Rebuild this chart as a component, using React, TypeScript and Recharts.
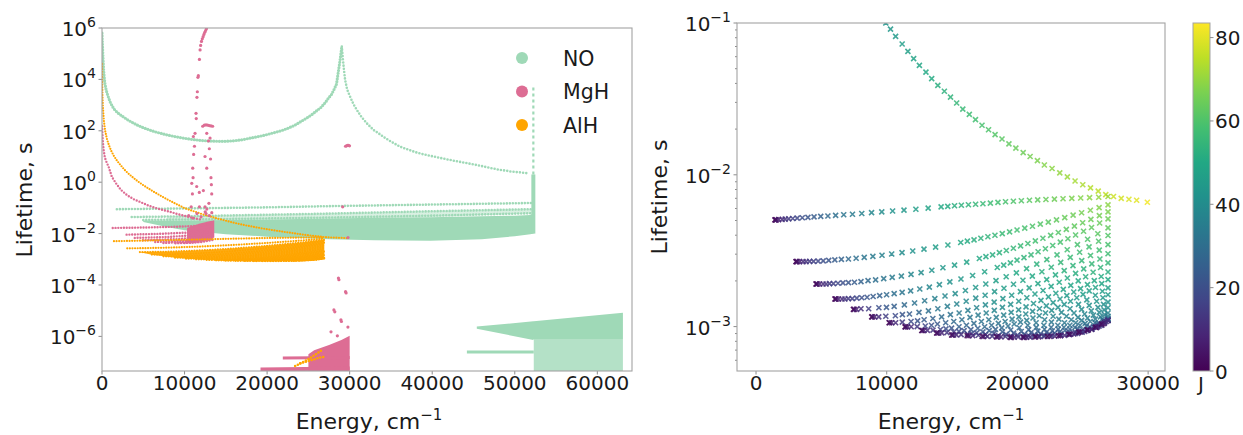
import React from "react";
import { Area, ComposedChart, Line, Scatter, XAxis, YAxis } from "recharts";

type P = [number, number];
type R = [number, number, number]; // x, low, high
type Level = { e: number[]; tauMs: number[]; j: number[] };

const FONT = "'DejaVu Sans', Verdana, sans-serif";
const TXT = "#1a1a1a";
const TICK = "#8c8c8c";
const FRAME = "#a3a3a3";
const NO_C = "#9fd9b7";
const MGH_C = "#dd6d94";
const ALH_C = "#ffa500";
const J_MAX = 83.5;

// ---- left panel: NO ----
const noUCurve: P[] = [
  [0, 6.3e5], [30, 3.5e5], [60, 2e5], [100, 1e5], [140, 5e4], [190, 2.5e4], [260, 1.3e4], [350, 7e3],
  [460, 4.5e3], [600, 3e3], [780, 2e3], [1000, 1.3e3], [1250, 900], [1550, 650], [1900, 500], [2300, 400],
  [2750, 320], [3250, 250], [3800, 200], [4400, 160], [5050, 130], [5750, 108], [6500, 90], [7300, 77],
  [8150, 66], [9050, 58], [10000, 51], [11000, 46], [12000, 42], [13000, 40], [14000, 39], [15000, 39],
  [16000, 41], [17000, 45], [18000, 52], [19000, 60], [19900, 70], [20800, 84], [21700, 100], [22500, 125],
  [23300, 160], [24000, 220], [24700, 300], [25400, 420], [26000, 600], [26500, 800], [27000, 1.2e3],
  [27400, 1.8e3], [27800, 2.6e3], [28100, 4e3], [28400, 6.5e3], [28650, 2.2e4], [28850, 6e4], [29050, 1.9e5],
];
const noRightBranch: P[] = [
  [29050, 1.9e5], [29150, 7.9e4], [29300, 2.5e4], [29450, 9.5e3], [29700, 4e3], [30060, 2.1e3], [30450, 1.1e3],
  [30870, 650], [31400, 355], [32080, 195], [32900, 107], [33500, 80], [34060, 59], [35000, 38], [36120, 24],
  [37500, 16.6], [38200, 14], [39000, 12], [40160, 10], [41500, 8.1], [42200, 7.3], [43000, 6.5], [44200, 5.5],
  [45500, 4.6], [46200, 4.1], [47000, 3.6], [48240, 3.0], [49000, 2.8], [49500, 2.6], [50700, 2.4], [51200, 2.3],
  [51650, 2.2],
];
const noRow1: P[] = [[1800, 0.089], [10000, 0.095], [20000, 0.105], [27600, 0.117], [40000, 0.135], [52000, 0.155]];
const noRow2: P[] = [[3600, 0.044], [10000, 0.047], [20000, 0.054], [27600, 0.06], [40000, 0.074], [52000, 0.089]];
const noRow3: P[] = [[5000, 0.034], [15000, 0.037], [27600, 0.042], [40000, 0.05], [52000, 0.062]];
const noSpike: P[] = [[52250, 0.01], [52250, 2]];
const noSpikeTail: P[] = [[52250, 2], [52250, 6300]];
const noLowLine: P[] = [[44200, 2.45e-7], [52300, 2.45e-7]];
const noMass: R[] = [
  [5000, 2.8e-2, 3.2e-2], [6000, 2.4e-2, 3.2e-2], [8000, 1.78e-2, 3.2e-2], [10000, 1.35e-2, 3.2e-2],
  [15000, 9.5e-3, 3.4e-2], [20000, 7.6e-3, 3.55e-2], [27600, 6.0e-3, 3.9e-2], [33000, 5.5e-3, 4.1e-2],
  [39760, 5.25e-3, 4.3e-2], [46000, 6.0e-3, 4.7e-2], [50000, 7.9e-3, 5.0e-2], [51880, 9.5e-3, 5.25e-2],
  [52300, 1.0e-2, 6.3e-2],
];
const noLight: R[] = [
  [8000, 3.2e-2, 4.6e-2], [20000, 3.55e-2, 5.4e-2], [30000, 3.95e-2, 6.2e-2], [40000, 4.3e-2, 7.4e-2], [52300, 6.3e-2, 8.9e-2],
];
const noLowTop: R[] = [[45400, 2.0e-6, 2.4e-6], [52250, 7.2e-7, 3.9e-6], [52300, 7.9e-7, 3.9e-6], [63100, 7.9e-7, 8.3e-6]];
const noLowBase: R[] = [[52300, 4.5e-8, 7.9e-7], [63100, 4.5e-8, 7.9e-7]];

// ---- left panel: MgH ----
const mghSteep: P[] = [
  [20, 150], [40, 90], [100, 40], [200, 18], [350, 9], [550, 6], [800, 4], [1200, 1.6], [1700, 0.9], [2300, 0.5],
  [3000, 0.32], [3800, 0.22], [4700, 0.166], [5700, 0.12], [6800, 0.093], [8000, 0.074], [9300, 0.056],
  [10600, 0.044], [12000, 0.035],
];
const mghRows: P[][] = [
  [[1300, 1.66e-2], [5000, 1.72e-2], [9000, 1.85e-2], [11500, 2.0e-2], [13400, 2.4e-2]],
  [[2980, 9.1e-3], [7000, 9.8e-3], [10500, 1.1e-2], [13400, 1.6e-2]],
  [[3970, 6.8e-3], [8000, 7.4e-3], [11000, 8.6e-3], [13400, 1.25e-2]],
  [[4960, 5.5e-3], [9000, 6.1e-3], [11500, 7.2e-3], [13400, 1.0e-2]],
  [[6450, 4.7e-3], [10000, 5.2e-3], [12000, 6.3e-3], [13400, 8.5e-3]],
  [[7440, 4.3e-3], [10500, 4.8e-3], [12500, 6.0e-3], [13400, 7.2e-3]],
  [[8900, 4.2e-3], [11500, 4.6e-3], [13400, 6.2e-3]],
  [[10000, 4.3e-3], [12000, 4.7e-3], [13400, 5.6e-3]],
];
const mghCluster: R[] = [[10300, 4.5e-3, 1.6e-2], [11000, 4.6e-3, 2.0e-2], [12000, 5.0e-3, 2.5e-2], [13000, 5.8e-3, 3.0e-2], [13600, 7e-3, 3.3e-2]];
const mghDots: P[] = [
  [10500, 5e-2], [11000, 4e-2], [11500, 6e-2], [12000, 4.5e-2], [12500, 7e-2], [13000, 5e-2], [13300, 6.5e-2],
  [11800, 0.11], [12700, 0.09], [10800, 0.11], [10870, 0.9], [10950, 0.35], [10990, 3.5], [11030, 1.5],
  [11070, 60], [11100, 12], [11200, 25], [11270, 80], [11390, 480], [11420, 300], [11470, 0.68], [11500, 2e3],
  [11550, 3.3e3], [11620, 1.2e4], [11670, 1.4e4], [11790, 0.4], [11800, 6e4], [11880, 1.4e5], [11950, 2.1e5],
  [12050, 3e5], [12150, 3.8e5], [12250, 4.6e5], [12350, 5.6e5], [12450, 6.8e5], [12550, 8e5], [12650, 9.3e5],
  [12280, 0.47], [12480, 10], [12480, 0.11], [12690, 3.5], [12690, 80], [12200, 150], [12400, 165], [12600, 170],
  [12800, 165], [13000, 160], [13200, 155], [13400, 150], [12900, 40], [13000, 20], [13090, 52], [13150, 8],
  [13200, 1.5], [13290, 0.35], [13250, 0.8], [12950, 0.15], [12600, 0.06],
  [29500, 25], [29620, 26], [29740, 27], [29860, 27], [29980, 26], [29150, 0.11], [29800, 7e-3],
  [28640, 1.86e-4], [28700, 1.6e-4], [29570, 4.9e-5], [29500, 5.5e-5], [28090, 1.07e-5], [28200, 9e-6],
  [28940, 4.4e-6], [29000, 3.8e-6], [29790, 2.3e-6], [27740, 1.5e-6], [28510, 1.05e-6],
];
const mghLowRow1: P[] = [[19200, 5.2e-8], [30000, 5.6e-8]];
const mghLowRow2: P[] = [[21900, 1.45e-7], [30000, 1.5e-7]];
const mghLowMass: R[] = [[25000, 4.5e-8, 2.0e-7], [25700, 4.5e-8, 2.9e-7], [27500, 4.5e-8, 4.6e-7], [29000, 4.5e-8, 7.2e-7], [30000, 4.5e-8, 1.05e-6]];

// ---- AlH (left panel, orange; right panel, coloured by J) ----
const alhLowA: P[] = [[23400, 7e-8], [24200, 9.5e-8], [25000, 1.3e-7], [25800, 1.9e-7], [26800, 3.2e-7]];
const alhLowB: P[] = [[24000, 8.9e-8], [25200, 1.15e-7], [26400, 1.5e-7], [27000, 1.62e-7]];
const alhMass: R[] = [
  [4590, 1.88e-3, 1.92e-3], [6040, 1.5e-3, 1.95e-3], [7450, 1.3e-3, 1.97e-3], [8850, 1.16e-3, 2.02e-3],
  [10180, 1.06e-3, 2.09e-3], [11400, 1.0e-3, 2.18e-3], [12680, 0.94e-3, 2.28e-3], [13820, 0.91e-3, 2.4e-3],
  [14970, 0.88e-3, 2.52e-3], [16150, 0.87e-3, 2.68e-3], [18400, 0.855e-3, 3.04e-3], [20450, 0.85e-3, 3.45e-3],
  [22300, 0.86e-3, 3.9e-3], [23950, 0.89e-3, 4.45e-3], [25350, 0.95e-3, 5.05e-3], [26450, 1.04e-3, 5.45e-3],
  [26930, 1.1e-3, 5.7e-3],
];

const alhV0: Level = {
  e: [11, 32, 64, 106, 223, 382, 583, 827, 1113, 1442, 1812, 2226, 2682, 3180, 3721, 4304, 4929, 5597, 6307, 7060,
    7855, 8692, 9572, 9930, 10290, 10680, 11180, 11620, 12060, 12500, 13000, 13440, 13910, 14410, 14880, 15350,
    15820, 16320, 16790, 17290, 17790, 18290, 18820, 19350, 19880, 20440, 20970, 21530, 22060, 22650, 23240,
    23820, 24410, 25000, 25590, 26180, 26760, 27350, 27940, 28530, 29120, 29940],
  tauMs: [4e7, 6.3e6, 2e6, 8.9e5, 2.5e5, 1e5, 5e4, 2.8e4, 1.66e4, 1.05e4, 6900, 4700, 3160, 2190, 1550, 1100, 790,
    575, 417, 302, 219, 158, 115, 100, 91.2, 81.7, 72.7, 65, 58.2, 52.6, 47.5, 43, 38.8, 35.5, 32.5, 29.7, 27.1,
    25, 23.1, 21.2, 19.8, 18.4, 17.2, 16, 15, 14, 13.2, 12.4, 11.6, 11, 10.3, 9.7, 9.1, 8.6, 8.2, 7.8, 7.4, 7.2,
    7.0, 6.9, 6.8, 6.6],
  j: [1, 2, 3, 4, 6, 8, 10, 12, 14, 16, 18, 20, 22, 24, 26, 28, 30, 32, 34, 36, 38, 40, 42, 43, 44, 45, 46, 47, 48,
    49, 50, 51, 52, 53, 54, 55, 56, 57, 58, 59, 60, 61, 62, 63, 64, 65, 66, 67, 68, 69, 70, 71, 72, 73, 74, 75,
    76, 77, 78, 79, 80, 82],
};
const alhV1: Level = {
  e: [1450, 1480, 1550, 1730, 2000, 2230, 2500, 2810, 3150, 3540, 3970, 4440, 4950, 5500, 6090, 6710, 7380, 8090,
    8840, 9620, 10450, 11320, 12230, 13170, 14160, 14670, 15190, 15710, 16250, 16800, 17360, 17930, 18510, 19090,
    19690, 20300, 20920, 21550, 22180, 22830, 23490, 24160, 24840, 25520, 26220, 26930],
  tauMs: [5.05, 5.05, 5.05, 5.07, 5.09, 5.11, 5.13, 5.15, 5.18, 5.21, 5.24, 5.28, 5.32, 5.35, 5.4, 5.46, 5.5, 5.56,
    5.63, 5.7, 5.77, 5.85, 5.93, 6.03, 6.15, 6.2, 6.25, 6.3, 6.35, 6.4, 6.45, 6.51, 6.58, 6.64, 6.7, 6.75, 6.8,
    6.84, 6.88, 6.92, 6.96, 7.0, 7.04, 7.08, 7.12, 7.2],
  j: [0, 2, 4, 7, 10, 12, 14, 16, 18, 20, 22, 24, 26, 28, 30, 32, 34, 36, 38, 40, 42, 44, 46, 48, 50, 51, 52, 53,
    54, 55, 56, 57, 58, 59, 60, 61, 62, 63, 64, 65, 66, 67, 68, 69, 70, 71],
};
const alhV2: Level = {
  e: [3060, 3090, 3160, 3340, 3600, 3830, 4100, 4400, 4750, 5140, 5560, 6030, 6530, 7070, 7660, 8280, 8940, 9640,
    10380, 11170, 11990, 12850, 13740, 14680, 15660, 16170, 16680, 17200, 17740, 18280, 18840, 19400, 19970, 20560,
    21150, 21750, 22360, 22990, 23620, 24260, 24910, 25580, 26250, 26930],
  tauMs: [2.68, 2.68, 2.68, 2.68, 2.68, 2.68, 2.69, 2.69, 2.7, 2.71, 2.73, 2.75, 2.77, 2.79, 2.82, 2.86, 2.9, 2.95,
    3.01, 3.07, 3.15, 3.24, 3.34, 3.45, 3.58, 3.66, 3.73, 3.82, 3.91, 4.0, 4.1, 4.21, 4.33, 4.45, 4.58, 4.73, 4.88,
    5.05, 5.22, 5.42, 5.62, 5.84, 6.08, 6.34],
  j: [0, 2, 4, 7, 10, 12, 14, 16, 18, 20, 22, 24, 26, 28, 30, 32, 34, 36, 38, 40, 42, 44, 46, 48, 50, 51, 52, 53,
    54, 55, 56, 57, 58, 59, 60, 61, 62, 63, 64, 65, 66, 67, 68, 69],
};
const alhV3: Level = {
  e: [4590, 4620, 4690, 4870, 5130, 5360, 5620, 5920, 6270, 6650, 7070, 7530, 8030, 8570, 9150, 9770, 10420, 11120,
    11860, 12630, 13450, 14300, 15190, 16120, 17090, 17590, 18100, 18620, 19150, 19690, 20240, 20800, 21370, 21950,
    22540, 23130, 23740, 24360, 24990, 25620, 26270, 26930],
  tauMs: [1.91, 1.91, 1.91, 1.91, 1.91, 1.91, 1.92, 1.92, 1.93, 1.94, 1.95, 1.96, 1.98, 2.01, 2.03, 2.07, 2.11,
    2.15, 2.21, 2.27, 2.35, 2.44, 2.54, 2.66, 2.81, 2.89, 2.97, 3.07, 3.17, 3.28, 3.4, 3.53, 3.67, 3.82, 3.99, 4.17,
    4.37, 4.59, 4.83, 5.09, 5.38, 5.7],
  j: [0, 2, 4, 7, 10, 12, 14, 16, 18, 20, 22, 24, 26, 28, 30, 32, 34, 36, 38, 40, 42, 44, 46, 48, 50, 51, 52, 53,
    54, 55, 56, 57, 58, 59, 60, 61, 62, 63, 64, 65, 66, 67],
};
const alhV4: Level = {
  e: [6040, 6070, 6140, 6310, 6580, 6800, 7060, 7360, 7710, 8090, 8500, 8960, 9460, 9990, 10570, 11180, 11830,
    12530, 13260, 14030, 14830, 15680, 16570, 17490, 18460, 18950, 19460, 19970, 20500, 21040, 21580, 22140, 22700,
    23280, 23860, 24450, 25060, 25670, 26290, 26930],
  tauMs: [1.52, 1.52, 1.52, 1.52, 1.52, 1.52, 1.53, 1.53, 1.54, 1.55, 1.56, 1.58, 1.6, 1.62, 1.65, 1.68, 1.72,
    1.77, 1.82, 1.89, 1.97, 2.06, 2.17, 2.3, 2.45, 2.54, 2.63, 2.74, 2.85, 2.97, 3.11, 3.26, 3.42, 3.6, 3.79, 4.01,
    4.25, 4.5, 4.81, 5.13],
  j: [0, 2, 4, 7, 10, 12, 14, 16, 18, 20, 22, 24, 26, 28, 30, 32, 34, 36, 38, 40, 42, 44, 46, 48, 50, 51, 52, 53,
    54, 55, 56, 57, 58, 59, 60, 61, 62, 63, 64, 65],
};
const alhV5: Level = {
  e: [7450, 7510, 7680, 8030, 8620, 9400, 9980, 10570, 11350, 12130, 12900, 13680, 14460, 15240, 16020, 16800,
    17580, 18360, 19140, 19920, 20700, 21480, 22250, 23030, 23810, 24590, 25370, 26150, 26930],
  tauMs: [1.3, 1.3, 1.3, 1.31, 1.31, 1.33, 1.34, 1.36, 1.39, 1.43, 1.48, 1.53, 1.59, 1.65, 1.73, 1.81, 1.91, 2.01,
    2.13, 2.26, 2.41, 2.58, 2.76, 2.97, 3.21, 3.47, 3.76, 4.09, 4.47],
  j: [0, 3, 7, 11, 15, 20, 23, 25, 28, 31, 33, 36, 38, 40, 42, 44, 45, 47, 49, 50, 52, 53, 55, 56, 58, 59, 60, 62, 63],
};
const alhV6: Level = {
  e: [8850, 8900, 9070, 9390, 9930, 10660, 11200, 11740, 12470, 13190, 13910, 14640, 15360, 16080, 16810, 17530,
    18250, 18970, 19700, 20420, 21140, 21870, 22590, 23310, 24040, 24760, 25480, 26210, 26930],
  tauMs: [1.16, 1.16, 1.16, 1.16, 1.17, 1.18, 1.2, 1.21, 1.24, 1.27, 1.31, 1.36, 1.41, 1.47, 1.54, 1.61, 1.7, 1.79,
    1.9, 2.02, 2.15, 2.3, 2.46, 2.65, 2.86, 3.09, 3.35, 3.65, 3.98],
  j: [0, 3, 7, 11, 15, 19, 22, 24, 27, 30, 32, 35, 37, 39, 40, 42, 44, 46, 47, 49, 50, 52, 53, 55, 56, 57, 58, 60, 61],
};
const alhV7: Level = {
  e: [10180, 10230, 10380, 10680, 11190, 11860, 12360, 12860, 13530, 14200, 14870, 15540, 16210, 16880, 17550,
    18220, 18890, 19560, 20230, 20900, 21570, 22240, 22910, 23580, 24250, 24920, 25590, 26260, 26930],
  tauMs: [1.06, 1.06, 1.06, 1.06, 1.07, 1.08, 1.09, 1.11, 1.13, 1.16, 1.2, 1.23, 1.28, 1.33, 1.39, 1.45, 1.53, 1.61,
    1.7, 1.8, 1.92, 2.04, 2.19, 2.34, 2.52, 2.72, 2.94, 3.19, 3.47],
  j: [0, 3, 6, 10, 14, 19, 21, 24, 26, 29, 31, 33, 35, 37, 39, 41, 43, 44, 46, 47, 49, 50, 51, 53, 54, 55, 57, 58, 59],
};
const alhV8: Level = {
  e: [11400, 11450, 11590, 11870, 12330, 12950, 13420, 13880, 14510, 15130, 15750, 16370, 16990, 17610, 18230,
    18850, 19480, 20100, 20720, 21340, 21960, 22580, 23200, 23820, 24450, 25070, 25690, 26310, 26930],
  tauMs: [0.995, 0.995, 0.995, 0.997, 1.0, 1.01, 1.02, 1.04, 1.06, 1.08, 1.11, 1.15, 1.19, 1.23, 1.28, 1.34, 1.4,
    1.47, 1.55, 1.64, 1.73, 1.84, 1.96, 2.09, 2.24, 2.4, 2.59, 2.79, 3.02],
  j: [0, 3, 6, 10, 14, 18, 21, 23, 25, 28, 30, 32, 34, 36, 38, 40, 41, 43, 44, 46, 47, 48, 50, 51, 52, 53, 55, 56, 57],
};
const alhV9: Level = {
  e: [12680, 12720, 12850, 13110, 13540, 14110, 14530, 14960, 15530, 16100, 16670, 17240, 17810, 18380, 18950,
    19520, 20090, 20660, 21230, 21800, 22370, 22940, 23510, 24080, 24650, 25220, 25790, 26360, 26930],
  tauMs: [0.942, 0.942, 0.942, 0.944, 0.948, 0.957, 0.967, 0.978, 0.997, 1.02, 1.05, 1.08, 1.11, 1.15, 1.19, 1.24,
    1.29, 1.35, 1.42, 1.49, 1.57, 1.66, 1.76, 1.87, 2.0, 2.13, 2.28, 2.45, 2.63],
  j: [0, 3, 6, 10, 13, 17, 20, 22, 25, 27, 29, 31, 33, 35, 36, 38, 40, 41, 43, 44, 45, 47, 48, 49, 50, 52, 53, 54, 55],
};
const alhV10: Level = {
  e: [13820, 13860, 13980, 14210, 14610, 15130, 15520, 15920, 16440, 16970, 17490, 18020, 18540, 19060, 19590,
    20110, 20640, 21160, 21690, 22210, 22730, 23260, 23780, 24310, 24830, 25360, 25880, 26410, 26930],
  tauMs: [0.908, 0.908, 0.908, 0.91, 0.913, 0.921, 0.93, 0.94, 0.956, 0.975, 0.997, 1.02, 1.05, 1.08, 1.12, 1.16,
    1.21, 1.26, 1.31, 1.37, 1.44, 1.52, 1.6, 1.69, 1.78, 1.89, 2.01, 2.14, 2.29],
  j: [0, 3, 6, 9, 13, 16, 19, 21, 23, 25, 28, 29, 31, 33, 34, 36, 38, 39, 40, 42, 43, 44, 45, 46, 48, 49, 50, 51, 52],
};
const alhV11: Level = {
  e: [14970, 15010, 15110, 15330, 15690, 16170, 16520, 16880, 17360, 17840, 18320, 18800, 19280, 19750, 20230,
    20710, 21190, 21670, 22150, 22620, 23100, 23580, 24060, 24540, 25020, 25490, 25970, 26450, 26930],
  tauMs: [0.881, 0.881, 0.881, 0.882, 0.886, 0.893, 0.9, 0.909, 0.923, 0.94, 0.959, 0.981, 1.01, 1.04, 1.07, 1.1,
    1.14, 1.18, 1.23, 1.28, 1.34, 1.4, 1.47, 1.55, 1.63, 1.72, 1.81, 1.92, 2.04],
  j: [0, 3, 6, 9, 12, 16, 18, 20, 22, 25, 26, 28, 30, 32, 33, 35, 36, 37, 39, 40, 41, 42, 44, 45, 46, 47, 48, 49, 50],
};
const alhV12: Level = {
  e: [16150, 16280, 16580, 17010, 17550, 18200, 18850, 19490, 20140, 20790, 21430, 22080, 22730, 23370, 24020,
    24670, 25310, 25960, 26500, 26930],
  tauMs: [0.87, 0.87, 0.872, 0.877, 0.886, 0.902, 0.924, 0.95, 0.982, 1.02, 1.06, 1.11, 1.17, 1.24, 1.31, 1.4, 1.5,
    1.61, 1.71, 1.8],
  j: [0, 5, 9, 13, 17, 20, 24, 26, 29, 31, 33, 35, 37, 38, 40, 42, 43, 45, 46, 47],
};
const alhV13: Level = {
  e: [17300, 17420, 17690, 18070, 18550, 19130, 19710, 20290, 20860, 21440, 22020, 22600, 23170, 23750, 24330,
    24910, 25490, 26060, 26540, 26930],
  tauMs: [0.86, 0.86, 0.862, 0.866, 0.874, 0.888, 0.906, 0.929, 0.956, 0.988, 1.02, 1.07, 1.12, 1.17, 1.23, 1.3,
    1.38, 1.47, 1.55, 1.62],
  j: [0, 5, 9, 13, 16, 20, 23, 25, 27, 30, 32, 33, 35, 37, 38, 40, 41, 43, 44, 45],
};
const alhV14: Level = {
  e: [18400, 18500, 18740, 19080, 19510, 20020, 20530, 21040, 21560, 22070, 22580, 23090, 23600, 24120, 24630,
    25140, 25650, 26160, 26590, 26930],
  tauMs: [0.855, 0.855, 0.856, 0.86, 0.867, 0.878, 0.893, 0.912, 0.934, 0.96, 0.99, 1.02, 1.06, 1.11, 1.15, 1.21,
    1.27, 1.34, 1.4, 1.45],
  j: [0, 5, 8, 12, 15, 18, 21, 23, 26, 28, 29, 31, 33, 34, 36, 37, 39, 40, 41, 42],
};
const alhV15: Level = {
  e: [19450, 19540, 19750, 20050, 20420, 20870, 21320, 21770, 22220, 22670, 23120, 23560, 24010, 24460, 24910,
    25360, 25810, 26260, 26630, 26930],
  tauMs: [0.85, 0.85, 0.851, 0.854, 0.86, 0.869, 0.882, 0.898, 0.916, 0.938, 0.962, 0.99, 1.02, 1.06, 1.1, 1.14,
    1.19, 1.24, 1.29, 1.33],
  j: [0, 4, 8, 11, 14, 17, 20, 22, 24, 26, 28, 30, 31, 33, 34, 36, 37, 38, 39, 40],
};
const alhV16: Level = {
  e: [20450, 20530, 20710, 20970, 21290, 21680, 22070, 22460, 22850, 23240, 23630, 24010, 24400, 24790, 25180,
    25570, 25960, 26350, 26670, 26930],
  tauMs: [0.85, 0.85, 0.851, 0.853, 0.858, 0.866, 0.876, 0.889, 0.904, 0.922, 0.942, 0.964, 0.989, 1.02, 1.05,
    1.08, 1.12, 1.16, 1.2, 1.23],
  j: [0, 4, 7, 10, 13, 16, 19, 21, 22, 24, 26, 27, 29, 30, 32, 33, 34, 35, 36, 37],
};
const alhV17: Level = {
  e: [21400, 21620, 22060, 22620, 23280, 23940, 24610, 25270, 25930, 26490, 26930],
  tauMs: [0.855, 0.856, 0.861, 0.873, 0.894, 0.924, 0.962, 1.01, 1.06, 1.12, 1.17],
  j: [0, 7, 12, 16, 20, 23, 26, 28, 31, 33, 34],
};
const alhV18: Level = {
  e: [22300, 22490, 22860, 23320, 23870, 24430, 24990, 25540, 26100, 26560, 26930],
  tauMs: [0.86, 0.861, 0.865, 0.876, 0.894, 0.92, 0.953, 0.993, 1.04, 1.09, 1.13],
  j: [0, 6, 11, 15, 18, 21, 24, 26, 28, 30, 31],
};
const alhV19: Level = {
  e: [23150, 23300, 23600, 23980, 24440, 24890, 25340, 25800, 26250, 26630, 26930],
  tauMs: [0.87, 0.871, 0.875, 0.885, 0.902, 0.926, 0.957, 0.994, 1.04, 1.08, 1.12],
  j: [0, 6, 10, 13, 16, 19, 21, 23, 25, 27, 28],
};
const alhV20: Level = {
  e: [23950, 24070, 24310, 24610, 24960, 25320, 25680, 26040, 26390, 26690, 26930],
  tauMs: [0.89, 0.891, 0.894, 0.903, 0.919, 0.94, 0.967, 1.0, 1.04, 1.08, 1.11],
  j: [0, 5, 9, 12, 15, 17, 19, 21, 23, 24, 25],
};
const alhV21: Level = { e: [24700, 24810, 25150, 25700, 26260, 26930], tauMs: [0.92, 0.921, 0.929, 0.96, 1.01, 1.1], j: [0, 5, 10, 15, 18, 22] };
const alhV22: Level = { e: [25350, 25430, 25670, 26060, 26460, 26930], tauMs: [0.95, 0.951, 0.958, 0.984, 1.02, 1.1], j: [0, 4, 8, 12, 15, 18] };
const alhV23: Level = { e: [25950, 26000, 26150, 26390, 26640, 26930], tauMs: [0.99, 0.99, 1.0, 1.02, 1.05, 1.1], j: [0, 3, 7, 10, 13, 15] };
const alhV24: Level = { e: [26450, 26550, 26670, 26790, 26930], tauMs: [1.04, 1.045, 1.06, 1.08, 1.1], j: [0, 5, 7, 9, 11] };

const alhLevels: Level[] = [
  alhV0, alhV1, alhV2, alhV3, alhV4, alhV5, alhV6, alhV7, alhV8, alhV9, alhV10, alhV11, alhV12,
  alhV13, alhV14, alhV15, alhV16, alhV17, alhV18, alhV19, alhV20, alhV21, alhV22, alhV23, alhV24,
];

// ---- axes ----
const leftXTicks = [0, 10000, 20000, 30000, 40000, 50000, 60000];
const leftYTicks = [1e-6, 1e-4, 1e-2, 1, 1e2, 1e4, 1e6];
const rightXTicks = [0, 10000, 20000, 30000];
const rightYTicks = [
  6e-4, 7e-4, 8e-4, 9e-4, 1e-3, 2e-3, 3e-3, 4e-3, 5e-3, 6e-3, 7e-3, 8e-3, 9e-3, 1e-2,
  2e-2, 3e-2, 4e-2, 5e-2, 6e-2, 7e-2, 8e-2, 9e-2, 1e-1,
];
const cbarTicks = [0, 20, 40, 60, 80];
const legendItems = [
  { name: "NO", color: NO_C },
  { name: "MgH", color: MGH_C },
  { name: "AlH", color: ALH_C },
];

const VIRIDIS = ["#440154", "#482475", "#414487", "#355f8d", "#2a788e", "#21918c", "#22a884", "#44bf70", "#7ad151", "#bddf26", "#fde725"];

function hexRgb(h: string) {
  return [parseInt(h.slice(1, 3), 16), parseInt(h.slice(3, 5), 16), parseInt(h.slice(5, 7), 16)];
}

function viridis(t: number) {
  const u = Math.max(0, Math.min(1, t)) * 10;
  const i = Math.min(9, Math.floor(u));
  const f = u - i;
  const a = hexRgb(VIRIDIS[i]);
  const b = hexRgb(VIRIDIS[i + 1]);
  const c = a.map((v, k) => Math.round(v + (b[k] - v) * f));
  return `rgb(${c[0]},${c[1]},${c[2]})`;
}

const pts = (a: P[]) => a.map(([x, y]) => ({ x, y }));
const rng = (a: R[]) => a.map(([x, lo, hi]) => ({ x, r: [lo, hi] }));
const levelPts = (l: Level) => l.e.map((e, i) => ({ x: e, y: l.tauMs[i] / 1000, j: l.j[i] }));

function XTick(p: any) {
  const { x, y, payload } = p;
  return (
    <g>
      <line x1={x} x2={x} y1={y} y2={y + 3.5} stroke={TICK} />
      <text x={x} y={y + 19} textAnchor="middle" fontSize={20} fill={TXT} fontFamily={FONT}>
        {payload.value}
      </text>
    </g>
  );
}

function LogTick(p: any) {
  const { x, y, payload } = p;
  const lg = Math.log10(payload.value);
  const e = Math.round(lg);
  if (Math.abs(lg - e) > 1e-6) return <line x1={x} x2={x - 2} y1={y} y2={y} stroke={TICK} />;
  return (
    <g>
      <line x1={x} x2={x - 3.5} y1={y} y2={y} stroke={TICK} />
      <text x={x - 6} y={y + 8} textAnchor="end" fontSize={20} fill={TXT} fontFamily={FONT}>
        10
        <tspan dy={-9} fontSize={14}>{e < 0 ? `\u2212${-e}` : `${e}`}</tspan>
      </text>
    </g>
  );
}

function XMark(p: any) {
  const { cx, cy, payload } = p;
  if (cx == null || cy == null) return null;
  const s = 2.5;
  return (
    <path
      d={`M${cx - s},${cy - s}L${cx + s},${cy + s}M${cx - s},${cy + s}L${cx + s},${cy - s}`}
      stroke={viridis(payload.j / J_MAX)}
      strokeWidth={1.6}
      strokeOpacity={0.85}
      fill="none"
    />
  );
}

function dotted(key: string, data: P[], color: string, w = 2.4, gap = 3) {
  return (
    <Line
      key={key}
      data={pts(data)}
      dataKey="y"
      type="linear"
      stroke={color}
      strokeWidth={w}
      strokeDasharray={`0 ${gap}`}
      strokeLinecap="round"
      dot={false}
      activeDot={false}
      isAnimationActive={false}
    />
  );
}

function solid(key: string, data: P[], color: string, w: number, dash?: string) {
  return (
    <Line
      key={key}
      data={pts(data)}
      dataKey="y"
      type="linear"
      stroke={color}
      strokeWidth={w}
      strokeDasharray={dash}
      dot={false}
      activeDot={false}
      isAnimationActive={false}
    />
  );
}

function mass(key: string, data: R[], color: string, opacity = 1) {
  return (
    <Area
      key={key}
      data={rng(data)}
      dataKey="r"
      type="linear"
      stroke="none"
      fill={color}
      fillOpacity={opacity}
      dot={false}
      activeDot={false}
      isAnimationActive={false}
    />
  );
}

function LeftPanel() {
  return (
    <ComposedChart width={640} height={435} margin={{ top: 28, right: 8, bottom: 34, left: 40 }}>
      <XAxis
        type="number"
        dataKey="x"
        domain={[0, 64200]}
        ticks={leftXTicks}
        interval={0}
        allowDataOverflow
        axisLine={false}
        tickLine={false}
        tickSize={0}
        tickMargin={0}
        height={30}
        tick={(p: any) => <XTick {...p} />}
      />
      <YAxis
        type="number"
        dataKey="y"
        scale="log"
        domain={[4.5e-8, 1e6]}
        ticks={leftYTicks}
        interval={0}
        allowDataOverflow
        axisLine={false}
        tickLine={false}
        tickSize={0}
        tickMargin={0}
        width={62}
        tick={(p: any) => <LogTick {...p} />}
      />
      {/* NO */}
      {mass("noLight", noLight, NO_C, 0.4)}
      {mass("noMass", noMass, NO_C)}
      {mass("noLowTop", noLowTop, NO_C)}
      {mass("noLowBase", noLowBase, NO_C, 0.78)}
      {dotted("noU", noUCurve, NO_C, 3.2, 2.8)}
      {dotted("noR", noRightBranch, NO_C, 2.6, 3.2)}
      {dotted("noRow1", noRow1, NO_C, 2.6, 3)}
      {dotted("noRow2", noRow2, NO_C, 2.6, 3)}
      {dotted("noRow3", noRow3, NO_C, 2.6, 3)}
      {solid("noSpike", noSpike, NO_C, 4)}
      {solid("noSpikeTail", noSpikeTail, NO_C, 2.2, "3 3")}
      {solid("noLowLine", noLowLine, NO_C, 3)}
      {/* MgH */}
      {mass("mghCluster", mghCluster, MGH_C)}
      {mass("mghLowMass", mghLowMass, MGH_C)}
      {dotted("mghSteep", mghSteep, MGH_C, 2.4, 3)}
      {mghRows.map((r, i) => dotted(`mghRow${i}`, r, MGH_C, 2.4, 2.8))}
      {solid("mghLowRow1", mghLowRow1, MGH_C, 4)}
      {solid("mghLowRow2", mghLowRow2, MGH_C, 3)}
      <Scatter
        data={pts(mghDots)}
        fill={MGH_C}
        isAnimationActive={false}
        shape={(p: any) => <circle cx={p.cx} cy={p.cy} r={1.6} fill={MGH_C} />}
      />
      {/* AlH */}
      {mass("alhMass", alhMass, ALH_C, 0.92)}
      {alhLevels.map((l, i) =>
        dotted(`alh${i}`, l.e.map((e, k) => [e, l.tauMs[k] / 1000] as P), ALH_C, 2.2, 2.6)
      )}
      {dotted("alhLowA", alhLowA, ALH_C, 2.6, 3)}
      {dotted("alhLowB", alhLowB, ALH_C, 2.6, 3)}
    </ComposedChart>
  );
}

function RightPanel() {
  return (
    <ComposedChart width={540} height={435} margin={{ top: 23, right: 15, bottom: 34, left: 27 }}>
      <XAxis
        type="number"
        dataKey="x"
        domain={[-1455, 31290]}
        ticks={rightXTicks}
        interval={0}
        allowDataOverflow
        axisLine={false}
        tickLine={false}
        tickSize={0}
        tickMargin={0}
        height={30}
        tick={(p: any) => <XTick {...p} />}
      />
      <YAxis
        type="number"
        dataKey="y"
        scale="log"
        domain={[5.1e-4, 0.1]}
        ticks={rightYTicks}
        interval={0}
        allowDataOverflow
        axisLine={false}
        tickLine={false}
        tickSize={0}
        tickMargin={0}
        width={70}
        tick={(p: any) => <LogTick {...p} />}
      />
      {alhLevels.map((l, i) => (
        <Scatter key={`v${i}`} data={levelPts(l)} shape={(p: any) => <XMark {...p} />} isAnimationActive={false} />
      ))}
    </ComposedChart>
  );
}

function Overlay() {
  const cbTop = 23;
  const cbBottom = 371;
  const cbY = (j: number) => cbBottom - (j / J_MAX) * (cbBottom - cbTop);
  return (
    <svg width={1243} height={435} style={{ position: "absolute", left: 0, top: 0, pointerEvents: "none" }}>
      <defs>
        <linearGradient id="virBar" x1="0" y1="1" x2="0" y2="0">
          {VIRIDIS.map((c, i) => (
            <stop key={c} offset={`${i * 10}%`} stopColor={c} />
          ))}
        </linearGradient>
      </defs>
      {/* frames */}
      <rect x={102} y={28} width={530} height={343} fill="none" stroke={FRAME} strokeWidth={1.1} />
      <rect x={737} y={23} width={428} height={348} fill="none" stroke={FRAME} strokeWidth={1.1} />

      {/* legend */}
      {legendItems.map((it, i) => (
        <g key={it.name}>
          <circle cx={522} cy={58 + i * 33.5} r={6} fill={it.color} />
          <text x={563} y={58 + i * 33.5 + 7.5} fontSize={20.5} fill={TXT} fontFamily={FONT}>
            {it.name}
          </text>
        </g>
      ))}

      {/* axis titles */}
      <text x={369} y={429} textAnchor="middle" fontSize={22} fill={TXT} fontFamily={FONT}>
        Energy, cm<tspan dy={-9} fontSize={15}>{"\u22121"}</tspan>
      </text>
      <text x={951} y={429} textAnchor="middle" fontSize={22} fill={TXT} fontFamily={FONT}>
        Energy, cm<tspan dy={-9} fontSize={15}>{"\u22121"}</tspan>
      </text>
      <text transform="translate(32,200) rotate(-90)" textAnchor="middle" fontSize={22} fill={TXT} fontFamily={FONT}>
        Lifetime, s
      </text>
      <text transform="translate(667,197) rotate(-90)" textAnchor="middle" fontSize={22} fill={TXT} fontFamily={FONT}>
        Lifetime, s
      </text>

      {/* colorbar */}
      <rect x={1193} y={cbTop} width={17} height={cbBottom - cbTop} fill="url(#virBar)" stroke={FRAME} strokeWidth={1} />
      {cbarTicks.map((t) => (
        <g key={t}>
          <line x1={1210} x2={1213.5} y1={cbY(t)} y2={cbY(t)} stroke={TICK} />
          <text x={1215} y={cbY(t) + 7.5} fontSize={20} fill={TXT} fontFamily={FONT}>
            {t}
          </text>
        </g>
      ))}
      <text x={1201} y={391} textAnchor="middle" fontSize={20} fill={TXT} fontFamily={FONT}>
        J
      </text>
    </svg>
  );
}

export default function App() {
  return (
    <div style={{ position: "absolute", left: 0, top: 0, width: 1243, height: 435, background: "#fff", fontFamily: FONT }}>
      <div style={{ position: "absolute", left: 0, top: 0 }}>
        <LeftPanel />
      </div>
      <div style={{ position: "absolute", left: 640, top: 0 }}>
        <RightPanel />
      </div>
      <Overlay />
    </div>
  );
}
